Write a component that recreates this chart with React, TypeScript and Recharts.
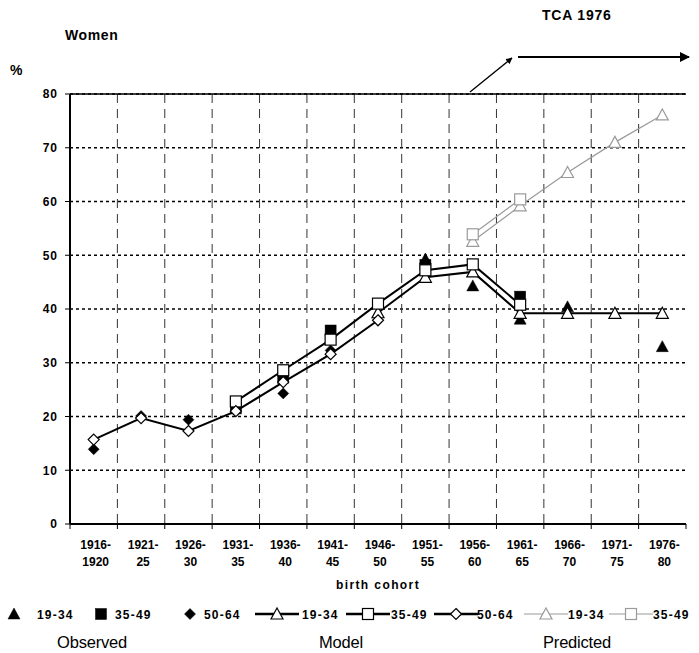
import React from "react";
import {
  ComposedChart,
  Line,
  XAxis,
  YAxis,
  CartesianGrid,
  ReferenceLine,
} from "recharts";

const cohorts = [
  "1916-1920", "1921-25", "1926-30", "1931-35", "1936-40", "1941-45", "1946-50",
  "1951-55", "1956-60", "1961-65", "1966-70", "1971-75", "1976-80",
];

// observed
const obs1934 = [null, null, null, null, null, null, null, 49.3, 44.3, 38.1, 40.4, null, 33.0];
const obs3549 = [null, null, null, 21.5, 27.2, 36.0, null, 48.2, null, 42.3, null, null, null];
const obs5064 = [13.9, 20.1, 19.4, 21.2, 24.3, 32.3, null, null, null, null, null, null, null];

// model
const mod1934 = [null, null, null, null, null, null, 39.3, 45.9, 46.9, 39.2, 39.2, 39.2, 39.2];
const mod3549 = [null, null, null, 22.8, 28.6, 34.3, 41.0, 47.2, 48.3, 40.8, null, null, null];
const mod5064 = [15.7, 19.7, 17.3, 21.0, 26.4, 31.6, 37.9, null, null, null, null, null, null];

// predicted
const pred1934 = [null, null, null, null, null, null, null, null, 52.6, 59.2, 65.4, 71.0, 76.1];
const pred3549 = [null, null, null, null, null, null, null, null, 53.9, 60.4, null, null, null];

const yTicks = [0, 10, 20, 30, 40, 50, 60, 70, 80];

const data = cohorts.map((cohort, i) => ({
  cohort,
  obs1934: obs1934[i],
  obs3549: obs3549[i],
  obs5064: obs5064[i],
  mod1934: mod1934[i],
  mod3549: mod3549[i],
  mod5064: mod5064[i],
  pred1934: pred1934[i],
  pred3549: pred3549[i],
}));

const FONT = "'Liberation Sans', Arial, sans-serif";
const W = 699;
const H = 653;
const PLOT_LEFT = 70;
const PLOT_RIGHT = 686;
const BAND = (PLOT_RIGHT - PLOT_LEFT) / cohorts.length;
const GREY = "#9a9a9a";

type Kind = "tri" | "sq" | "dia";

function marker(kind: Kind, cx: number, cy: number, fill: string, stroke: string, sw: number) {
  if (kind === "tri") {
    const pts = `${cx},${cy - 6} ${cx + 6},${cy + 5} ${cx - 6},${cy + 5}`;
    return <polygon points={pts} fill={fill} stroke={stroke} strokeWidth={sw} />;
  }
  if (kind === "sq") {
    return <rect x={cx - 5.5} y={cy - 5.5} width={11} height={11} fill={fill} stroke={stroke} strokeWidth={sw} />;
  }
  const pts = `${cx},${cy - 5.5} ${cx + 5.5},${cy} ${cx},${cy + 5.5} ${cx - 5.5},${cy}`;
  return <polygon points={pts} fill={fill} stroke={stroke} strokeWidth={sw} />;
}

function makeDot(kind: Kind, fill: string, stroke: string, sw: number) {
  return (props: any) => {
    const { cx, cy, index, value } = props;
    const k = `${kind}-${fill}-${stroke}-${index}`;
    if (cx == null || cy == null || value == null || Number.isNaN(cy)) return <g key={k} />;
    return <g key={k}>{marker(kind, cx, cy, fill, stroke, sw)}</g>;
  };
}

function CohortTick(props: any) {
  const { x, y, payload, index } = props;
  const [a, b] = String(payload.value).split("-");
  const axisY = y - 8;
  return (
    <g>
      <line x1={x - BAND / 2} x2={x - BAND / 2} y1={axisY} y2={axisY + 5} stroke="#000" strokeWidth={1} />
      {index === cohorts.length - 1 && (
        <line x1={x + BAND / 2} x2={x + BAND / 2} y1={axisY} y2={axisY + 5} stroke="#000" strokeWidth={1} />
      )}
      <text x={x + 2} y={axisY + 25} textAnchor="middle" fontFamily={FONT} fontWeight="bold" fontSize={12} fill="#000">
        {a}-
      </text>
      <text x={x + 2} y={axisY + 42} textAnchor="middle" fontFamily={FONT} fontWeight="bold" fontSize={12} fill="#000">
        {b}
      </text>
    </g>
  );
}

const legendItems: { kind: Kind; type: "obs" | "mod" | "pred"; label: string; cx: number; tx: number }[] = [
  { kind: "tri", type: "obs", label: "19-34", cx: 14, tx: 37 },
  { kind: "sq", type: "obs", label: "35-49", cx: 101, tx: 115 },
  { kind: "dia", type: "obs", label: "50-64", cx: 190, tx: 204 },
  { kind: "tri", type: "mod", label: "19-34", cx: 277, tx: 302 },
  { kind: "sq", type: "mod", label: "35-49", cx: 368, tx: 391 },
  { kind: "dia", type: "mod", label: "50-64", cx: 456, tx: 477 },
  { kind: "tri", type: "pred", label: "19-34", cx: 546, tx: 568 },
  { kind: "sq", type: "pred", label: "35-49", cx: 631, tx: 653 },
];

function Overlay() {
  const ly = 614;
  return (
    <svg width={W} height={H} style={{ position: "absolute", left: 0, top: 0, pointerEvents: "none" }}>
      <defs>
        <marker id="ah" viewBox="0 0 10 10" refX="9" refY="5" markerWidth="5" markerHeight="5" orient="auto">
          <path d="M0,0 L10,5 L0,10 z" fill="#000" />
        </marker>
      </defs>
      <text x={65} y={40} fontFamily={FONT} fontWeight="bold" fontSize={14} letterSpacing={0.6}>Women</text>
      <text x={10} y={75} fontFamily={FONT} fontWeight="bold" fontSize={14}>%</text>
      <text x={542} y={20} fontFamily={FONT} fontWeight="bold" fontSize={14} letterSpacing={0.8}>TCA 1976</text>
      <line x1={470} y1={92} x2={512} y2={58} stroke="#000" strokeWidth={1.3} markerEnd="url(#ah)" />
      <line x1={518} y1={57} x2={689} y2={57} stroke="#000" strokeWidth={2} markerEnd="url(#ah)" />
      <text x={378} y={589} textAnchor="middle" fontFamily={FONT} fontWeight="bold" fontSize={12} letterSpacing={1.4}>
        birth cohort
      </text>
      {legendItems.map((it, i) => {
        const col = it.type === "pred" ? GREY : "#000";
        return (
          <g key={i}>
            {it.type !== "obs" && (
              <line
                x1={it.cx - 22}
                x2={it.cx + 22}
                y1={ly}
                y2={ly}
                stroke={col}
                strokeWidth={it.type === "mod" ? 2.5 : 1.2}
              />
            )}
            {it.type === "obs"
              ? marker(it.kind, it.cx, ly, "#000", "#000", 0.5)
              : marker(it.kind, it.cx, ly, "#fff", col, 1.2)}
            <text x={it.tx} y={ly + 4.5} fontFamily={FONT} fontWeight="bold" fontSize={12} letterSpacing={1.2}>
              {it.label}
            </text>
          </g>
        );
      })}
      <text x={92} y={648} textAnchor="middle" fontFamily={FONT} fontSize={16.5} letterSpacing={-0.2}>Observed</text>
      <text x={341} y={648} textAnchor="middle" fontFamily={FONT} fontSize={16.5} letterSpacing={-0.2}>Model</text>
      <text x={577} y={648} textAnchor="middle" fontFamily={FONT} fontSize={16.5} letterSpacing={-0.2}>Predicted</text>
    </svg>
  );
}

export default function App() {
  return (
    <div style={{ position: "absolute", left: 0, top: 0, width: W, height: H, background: "#fff" }}>
      <ComposedChart width={W} height={H} data={data} margin={{ top: 94, right: W - PLOT_RIGHT, left: 0, bottom: 0 }}>
        <CartesianGrid vertical={false} stroke="#000" strokeDasharray="3 3" strokeWidth={1.5} />
        <CartesianGrid
          horizontal={false}
          stroke="#333"
          strokeDasharray="9 6"
          verticalCoordinatesGenerator={({ offset }: any) =>
            cohorts.slice(1).map((_, i) => offset.left + ((i + 1) * offset.width) / cohorts.length)
          }
        />
        <XAxis
          dataKey="cohort"
          scale="band"
          interval={0}
          height={129}
          tickLine={false}
          axisLine={{ stroke: "#000", strokeWidth: 2 }}
          tick={<CohortTick />}
        />
        <YAxis
          domain={[0, 80]}
          ticks={yTicks}
          width={PLOT_LEFT}
          tickSize={5}
          tickMargin={7}
          tickLine={{ stroke: "#000" }}
          axisLine={{ stroke: "#000", strokeWidth: 2 }}
          tick={{ fill: "#000", fontFamily: FONT, fontWeight: "bold", fontSize: 12, letterSpacing: 1 }}
        />
        <YAxis
          yAxisId="right"
          orientation="right"
          domain={[0, 80]}
          width={0}
          tick={false}
          tickLine={false}
          axisLine={{ stroke: "#000", strokeWidth: 1.5 }}
        />
        <ReferenceLine y={80} stroke="#000" strokeWidth={1.5} />

        <Line dataKey="obs1934" stroke="none" dot={makeDot("tri", "#000", "#000", 0.5)} activeDot={false} isAnimationActive={false} />
        <Line dataKey="obs3549" stroke="none" dot={makeDot("sq", "#000", "#000", 0.5)} activeDot={false} isAnimationActive={false} />
        <Line dataKey="obs5064" stroke="none" dot={makeDot("dia", "#000", "#000", 0.5)} activeDot={false} isAnimationActive={false} />

        <Line dataKey="mod1934" stroke="#000" strokeWidth={2} dot={makeDot("tri", "#fff", "#000", 1.2)} activeDot={false} isAnimationActive={false} />
        <Line dataKey="mod3549" stroke="#000" strokeWidth={2} dot={makeDot("sq", "#fff", "#000", 1.2)} activeDot={false} isAnimationActive={false} />
        <Line dataKey="mod5064" stroke="#000" strokeWidth={2} dot={makeDot("dia", "#fff", "#000", 1.2)} activeDot={false} isAnimationActive={false} />

        <Line dataKey="pred1934" stroke={GREY} strokeWidth={1.2} dot={makeDot("tri", "#fff", GREY, 1.2)} activeDot={false} isAnimationActive={false} />
        <Line dataKey="pred3549" stroke={GREY} strokeWidth={1.2} dot={makeDot("sq", "#fff", GREY, 1.2)} activeDot={false} isAnimationActive={false} />
      </ComposedChart>
      <Overlay />
    </div>
  );
}
